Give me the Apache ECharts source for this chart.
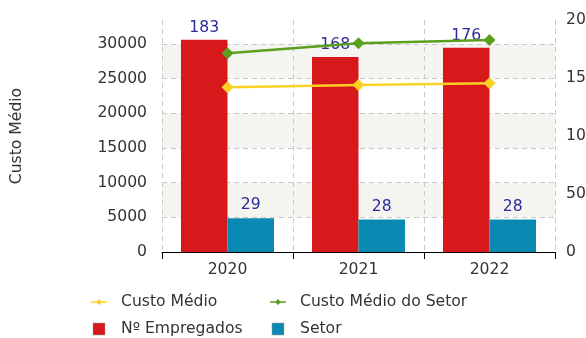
<!DOCTYPE html>
<html>
<head>
<meta charset="utf-8">
<script src="https://cdn.jsdelivr.net/npm/echarts@6/dist/echarts.min.js"></script>
<style>
  html, body { margin: 0; padding: 0; background: #ffffff; }
  #chart { width: 586px; height: 338px; }
</style>
</head>
<body>
<div id="chart"></div>
<script>
// Anos
const years = ['2020', '2021', '2022'];
// Custo médio (eixo esquerdo)
const custoMedio = [23740, 24070, 24320];
const custoMedioSetor = [28650, 30090, 30570];
// Número de empregados (eixo direito)
const numEmpregados = [183, 168, 176];
const setor = [29, 28, 28];
// Rótulos do eixo direito
const rightTicks = [0, 50, 100, 150, 200];

const FONT = 'DejaVu Sans';
const FS = 15.6;
const NAVY = '#2b2b9b';
const GRID_GREY = '#c9c9c9';

const chart = echarts.init(document.getElementById('chart'), null, { renderer: 'canvas' });

// Legend icons: filled square for bars, short line with a small diamond for lines
const squareIcon = 'path://M0,0L10,0L10,10L0,10Z';
const lineIcon = 'path://M0,5.2L16,5.2L16,6.8L0,6.8Z M8,3L11,6L8,9L5,6Z';

const legendText = {
  fontFamily: FONT, fontSize: FS, color: '#333', padding: [0, 0, 0, 9]
};

const plain = v => String(v);

chart.setOption({
  animation: false,
  textStyle: { fontFamily: FONT },
  grid: {
    left: 162, right: 31, top: 20, bottom: 86,
    containLabel: false, outerBoundsMode: 'none'
  },
  legend: [
    {
      orient: 'vertical', left: 86, top: 289, height: 70, itemGap: 11,
      itemWidth: 16, itemHeight: 12,
      textStyle: legendText,
      data: [
        { name: 'Custo Médio', icon: lineIcon },
        { name: 'Nº Empregados', icon: squareIcon, itemStyle: { borderColor: '#999', borderWidth: 0.5 } }
      ]
    },
    {
      orient: 'vertical', left: 265, top: 289, height: 70, itemGap: 11,
      itemWidth: 16, itemHeight: 12,
      textStyle: legendText,
      data: [
        { name: 'Custo Médio do Setor', icon: lineIcon },
        { name: 'Setor', icon: squareIcon, itemStyle: { borderColor: '#999', borderWidth: 0.5 } }
      ]
    }
  ],
  xAxis: {
    type: 'category',
    data: years,
    boundaryGap: true,
    axisLine: { show: true, lineStyle: { color: '#000', width: 1 } },
    axisTick: { show: true, length: 7, lineStyle: { color: '#000' } },
    axisLabel: { fontFamily: FONT, fontSize: FS, color: '#333', margin: 10 },
    splitLine: { show: true, lineStyle: { color: GRID_GREY, type: [5, 4], width: 1 } }
  },
  yAxis: [
    {
      type: 'value',
      min: 0, max: 33450, interval: 5000,
      name: 'Custo Médio',
      nameLocation: 'middle', nameRotate: 90, nameGap: 137,
      nameTextStyle: { fontFamily: FONT, fontSize: FS, color: '#333' },
      axisLine: { show: false },
      axisTick: { show: false },
      axisLabel: { fontFamily: FONT, fontSize: FS, color: '#333', margin: 15, showMaxLabel: false, formatter: plain },
      splitLine: {
        show: true,
        lineStyle: {
          type: [5, 4], width: 1,
          color: [GRID_GREY, GRID_GREY, GRID_GREY, GRID_GREY, GRID_GREY, GRID_GREY, GRID_GREY, 'rgba(0,0,0,0)']
        }
      },
      splitArea: { show: true, areaStyle: { color: ['rgba(0,0,0,0)', '#f4f4f0'] } }
    },
    {
      type: 'value',
      position: 'right',
      min: rightTicks[0], max: rightTicks[rightTicks.length - 1], interval: rightTicks[1] - rightTicks[0],
      axisLine: { show: false },
      axisTick: { show: false },
      axisLabel: { fontFamily: FONT, fontSize: FS, color: '#333', margin: 11, formatter: plain },
      splitLine: { show: false }
    }
  ],
  series: [
    {
      name: 'Nº Empregados', type: 'bar', yAxisIndex: 1,
      data: numEmpregados,
      barGap: '0%', barCategoryGap: '29%',
      itemStyle: { color: '#d7191c' },
      label: { show: true, position: 'top', distance: 4, color: NAVY, fontFamily: FONT, fontSize: FS },
      z: 2
    },
    {
      name: 'Setor', type: 'bar', yAxisIndex: 1,
      data: setor,
      barGap: '0%', barCategoryGap: '29%',
      itemStyle: { color: '#0a8ab2' },
      label: { show: true, position: 'top', distance: 5, color: NAVY, fontFamily: FONT, fontSize: FS },
      z: 2
    },
    {
      name: 'Custo Médio', type: 'line', yAxisIndex: 0,
      data: custoMedio,
      symbol: 'diamond', symbolSize: 12,
      itemStyle: { color: '#fbd125' },
      lineStyle: { color: '#fbd125', width: 2.5 },
      z: 4
    },
    {
      name: 'Custo Médio do Setor', type: 'line', yAxisIndex: 0,
      data: custoMedioSetor,
      symbol: 'diamond', symbolSize: 12,
      itemStyle: { color: '#5a9f1e' },
      lineStyle: { color: '#5a9f1e', width: 2.5 },
      z: 4
    }
  ]
});
</script>
</body>
</html>
